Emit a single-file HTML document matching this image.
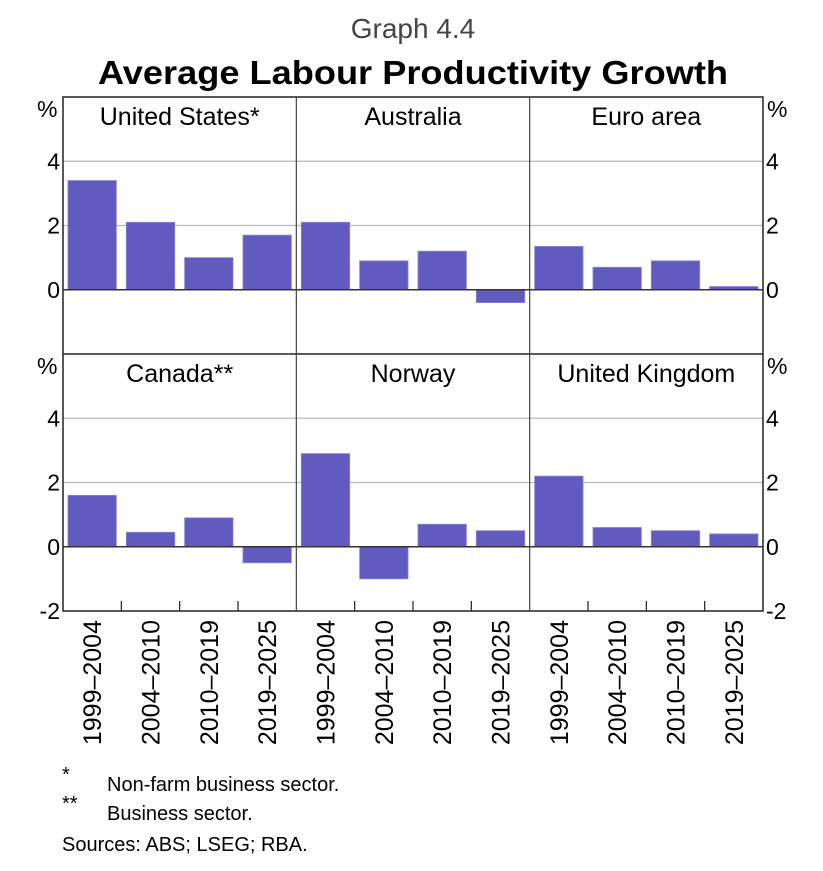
<!DOCTYPE html>
<html><head><meta charset="utf-8"><style>
html,body{margin:0;padding:0;background:#fff;}
svg{display:block;font-family:"Liberation Sans",Arial,sans-serif;}
</style></head><body>
<svg id="chart" width="823" height="871" viewBox="0 0 823 871">
<text x="413" y="38" text-anchor="middle" font-size="28" fill="#444">Graph 4.4</text>
<text x="413" y="84" text-anchor="middle" font-size="33" font-weight="bold" textLength="630" lengthAdjust="spacingAndGlyphs">Average Labour Productivity Growth</text>
<g id="plot"></g>
<g font-size="20">
<text x="62" y="781">*</text>
<text x="107" y="791">Non-farm business sector.</text>
<text x="62" y="810">**</text>
<text x="107" y="820">Business sector.</text>
<text x="62" y="851">Sources: ABS; LSEG; RBA.</text>
</g>
</svg>
<script>
const panels = ["United States*","Australia","Euro area","Canada**","Norway","United Kingdom"];
const categories = ["1999–2004","2004–2010","2010–2019","2019–2025"];
const usValues = [3.4, 2.1, 1.0, 1.7];
const auValues = [2.1, 0.9, 1.2, -0.4];
const euValues = [1.35, 0.7, 0.9, 0.1];
const caValues = [1.6, 0.45, 0.9, -0.5];
const noValues = [2.9, -1.0, 0.7, 0.5];
const ukValues = [2.2, 0.6, 0.5, 0.4];
const yTicks = [-2, 0, 2, 4];
const yMin = -2, yMax = 6;

const series = [usValues, auValues, euValues, caValues, noValues, ukValues];
const NS = "http://www.w3.org/2000/svg";
const g = document.getElementById("plot");
const L = 63, R = 763, T = 97, MID = 354, B = 611;
const colW = (R - L) / 3;
function mk(tag, attrs, parent) {
  const e = document.createElementNS(NS, tag);
  for (const k in attrs) e.setAttribute(k, attrs[k]);
  (parent || g).appendChild(e);
  return e;
}
function yScale(row, v) {
  const top = row === 0 ? T : MID, bot = row === 0 ? MID : B;
  return bot - (v - yMin) / (yMax - yMin) * (bot - top);
}
function xBand(col, i) { return L + col * colW + (i + 0.5) * colW / 4; }

for (let row = 0; row < 2; row++) {
  yTicks.forEach(t => {
    if (t <= 0 || t >= yMax) return;
    const y = yScale(row, t);
    const ln = mk("line", {x1: L, x2: R, y1: y, y2: y, stroke: "#b8b8b8", "stroke-width": 1.2});
    
    
  });
}
series.forEach((vals, p) => {
  const row = Math.floor(p / 3), col = p % 3;
  vals.forEach((v, i) => {
    const y0 = yScale(row, 0), y1 = yScale(row, v);
    const bw = colW / 4 * 0.83;
    const r = mk("rect", {x: xBand(col, i) - bw / 2, y: Math.min(y0, y1), width: bw, height: Math.abs(y1 - y0), fill: "#615bc0", stroke: "#8c86d6", "stroke-width": 0.8});
    
    
  });
  const t = mk("text", {x: L + col * colW + colW / 2, y: (row === 0 ? T : MID) + 28, "text-anchor": "middle", "font-size": 25});
  t.textContent = panels[p];
  
  
});
for (let row = 0; row < 2; row++) {
  const y = yScale(row, 0);
  const z = mk("line", {x1: L, x2: R, y1: y, y2: y, stroke: "#333", "stroke-width": 1.5});
  
  
}
const fr = mk("rect", {x: L, y: T, width: R - L, height: B - T, fill: "none", stroke: "#222", "stroke-width": 1.5});


const md = mk("line", {x1: L, x2: R, y1: MID, y2: MID, stroke: "#222", "stroke-width": 1.5});


for (let c = 1; c < 3; c++) {
  const x = L + c * colW;
  const d = mk("line", {x1: x, x2: x, y1: T, y2: B, stroke: "#444", "stroke-width": 1.2});
  
  
}
for (let c = 0; c < 3; c++) for (let i = 1; i < 4; i++) {
  const x = L + c * colW + i * colW / 4;
  const tk = mk("line", {x1: x, x2: x, y1: B, y2: B - 10, stroke: "#222", "stroke-width": 1.2});
  
  
}
for (let row = 0; row < 2; row++) {
  yTicks.forEach(t => {
    if (row === 0 && t === -2) return;
    const y = yScale(row, t) + 8;
    const a = mk("text", {x: 60, y: y, "text-anchor": "end", "font-size": 23});
    a.textContent = t;
    
    
    const b = mk("text", {x: 766, y: y, "text-anchor": "start", "font-size": 23});
    b.textContent = t;
    
    
  });
  const top = row === 0 ? T : MID;
  const pl = mk("text", {x: 37, y: top + 20, "font-size": 23});
  pl.textContent = "%";
  
  
  const pr = mk("text", {x: 767, y: top + 20, "font-size": 23});
  pr.textContent = "%";
  
  
}
for (let c = 0; c < 3; c++) categories.forEach((cat, i) => {
  const x = xBand(c, i) + 9;
  const t = mk("text", {x: 0, y: 0, "text-anchor": "end", "font-size": 25, transform: "translate(" + x + "," + 620 + ") rotate(-90)"});
  t.textContent = cat;
  
  
});
</script>
</body></html>
